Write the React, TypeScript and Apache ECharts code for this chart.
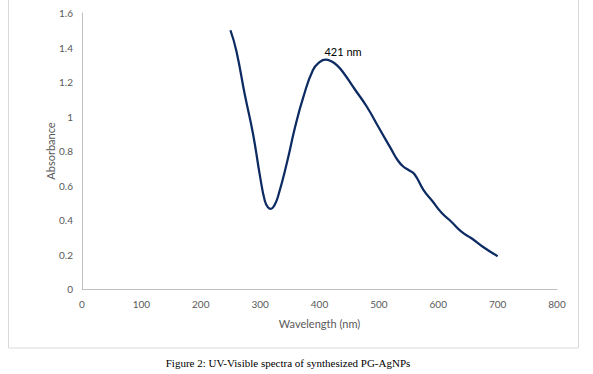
import React, { useEffect, useRef } from "react";
import * as echarts from "echarts";

const wavelengths = [250, 260, 274, 288, 300, 308, 313, 318, 324, 330, 345, 359, 373, 389, 400, 410, 420, 430, 440, 460, 480, 500, 520, 532, 541, 550, 560, 575, 590, 606, 622, 639, 656, 675, 700];
const absorbance = [1.5, 1.38, 1.13, 0.9, 0.65, 0.51, 0.475, 0.465, 0.485, 0.535, 0.73, 0.94, 1.115, 1.27, 1.315, 1.33, 1.32, 1.295, 1.255, 1.155, 1.055, 0.935, 0.815, 0.745, 0.71, 0.69, 0.665, 0.575, 0.51, 0.44, 0.39, 0.332, 0.294, 0.245, 0.19];
const xTicks = [0, 100, 200, 300, 400, 500, 600, 700, 800];
const yTicks = [0, 0.2, 0.4, 0.6, 0.8, 1, 1.2, 1.4, 1.6];
const peakLabel = "421 nm";
const caption = "Figure 2: UV-Visible spectra of synthesized PG-AgNPs";

export default function App() {
  const ref = useRef<HTMLDivElement>(null);
  useEffect(() => {
    document.body.style.margin = "0";
    const chart = echarts.init(ref.current!, null, { renderer: "svg" });
    const font = "Lato, 'Open Sans', sans-serif";
    chart.setOption({
      animation: false,
      backgroundColor: "#ffffff",
      grid: { left: 82, top: 13, right: 36, bottom: 85 },
      xAxis: {
        type: "value",
        min: xTicks[0],
        max: xTicks[xTicks.length - 1],
        interval: 100,
        name: "Wavelength (nm)",
        nameLocation: "middle",
        nameGap: 29,
        nameMoveOverlap: false,
        nameTextStyle: { color: "#595959", fontSize: 11, fontFamily: font },
        axisLine: { show: true, lineStyle: { color: "#bfbfbf", width: 1 } },
        axisTick: { show: false },
        splitLine: { show: false },
        axisLabel: { color: "#595959", fontSize: 10, fontFamily: font, margin: 10 },
      },
      yAxis: {
        type: "value",
        min: yTicks[0],
        max: yTicks[yTicks.length - 1],
        interval: 0.2,
        name: "Absorbance",
        nameLocation: "middle",
        nameGap: 26,
        nameMoveOverlap: false,
        nameTextStyle: { color: "#595959", fontSize: 11, fontFamily: font },
        axisLine: { show: true, lineStyle: { color: "#bfbfbf", width: 1 } },
        axisTick: { show: false },
        splitLine: { show: false },
        axisLabel: { color: "#595959", fontSize: 10, fontFamily: font, margin: 9 },
      },
      series: [
        {
          type: "line",
          data: wavelengths.map((w, i) => [w, absorbance[i]]),
          smooth: 0.5,
          showSymbol: false,
          lineStyle: { color: "#0d2b63", width: 2.25 },
        },
      ],
      graphic: [
        {
          type: "rect",
          shape: { x: 8.5, y: -2, width: 570, height: 350 },
          style: { fill: "none", stroke: "#d9d9d9", lineWidth: 1 },
          silent: true,
        },
        {
          type: "text",
          x: 343,
          y: 51,
          style: {
            text: peakLabel,
            fill: "#000000",
            font: `11px ${font}`,
            textAlign: "center",
            textVerticalAlign: "middle",
          },
        },
        {
          type: "text",
          x: 288,
          y: 363,
          style: {
            text: caption,
            fill: "#000000",
            font: "11px 'Liberation Serif', 'DejaVu Serif', serif",
            textAlign: "center",
            textVerticalAlign: "middle",
          },
        },
      ],
    });
    return () => chart.dispose();
  }, []);
  return <div ref={ref} style={{ width: 593, height: 374 }} />;
}
